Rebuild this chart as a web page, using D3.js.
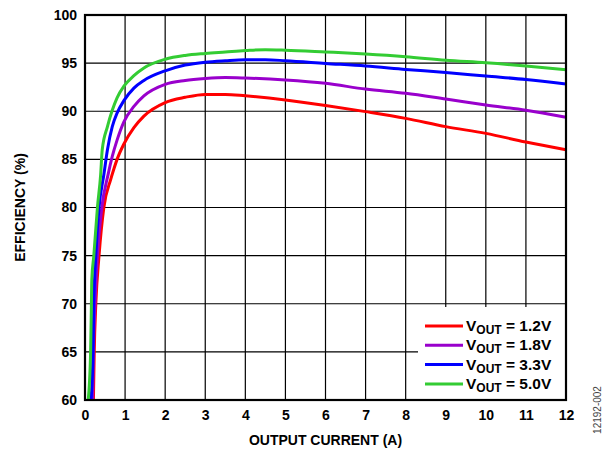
<!DOCTYPE html>
<html>
<head>
<meta charset="utf-8">
<script src="https://cdn.jsdelivr.net/npm/d3@7"></script>
<style>
  html, body { margin: 0; padding: 0; background: #fff; }
  svg { display: block; font-family: "Liberation Sans", Arial, sans-serif; }
</style>
</head>
<body>
<svg id="chart" width="606" height="449"></svg>
<script>
// Efficiency vs. output current for four output voltages
const xTicks = [0, 1, 2, 3, 4, 5, 6, 7, 8, 9, 10, 11, 12];
const yTicks = [60, 65, 70, 75, 80, 85, 90, 95, 100];

const seriesNames = ["1.2V", "1.8V", "3.3V", "5.0V"];
const seriesColors = ["#ff0000", "#9900cc", "#0000ff", "#33cc33"];

const current1v2 = [0.21, 0.23, 0.27, 0.35, 0.47, 0.64, 0.72, 0.80, 0.97, 1.22, 1.47, 2.0, 2.5, 3.0, 3.5, 4.0, 5, 6, 7, 8, 9, 10, 11, 12];
const eff1v2     = [60, 65, 70, 75, 80, 82.9, 84.0, 85.0, 86.6, 88.3, 89.5, 90.9, 91.45, 91.75, 91.75, 91.6, 91.17, 90.6, 89.96, 89.26, 88.4, 87.7, 86.8, 86.0];

const current1v8 = [0.19, 0.21, 0.25, 0.31, 0.42, 0.58, 0.68, 0.80, 0.97, 1.22, 1.47, 2.0, 2.5, 3.0, 3.5, 4.0, 5, 6, 7, 8, 9, 10, 11, 12];
const eff1v8     = [60, 65, 70, 75, 80, 83.5, 85.3, 87.0, 88.9, 90.5, 91.6, 92.8, 93.2, 93.4, 93.5, 93.45, 93.25, 92.9, 92.3, 91.87, 91.27, 90.65, 90.1, 89.37];

const current3v3 = [0.15, 0.20, 0.22, 0.27, 0.35, 0.47, 0.56, 0.68, 0.80, 0.97, 1.22, 1.47, 2.0, 2.5, 3.0, 3.5, 4.0, 4.5, 5, 6, 7, 8, 9, 10, 11, 12];
const eff3v3     = [60, 65, 70, 75, 80, 83.4, 86.0, 88.4, 89.8, 91.1, 92.4, 93.2, 94.2, 94.8, 95.1, 95.25, 95.35, 95.35, 95.25, 94.97, 94.7, 94.35, 94.03, 93.66, 93.3, 92.83];

const current5v0 = [0.08, 0.14, 0.16, 0.17, 0.22, 0.31, 0.39, 0.43, 0.56, 0.68, 0.80, 0.97, 1.22, 1.47, 2.0, 2.5, 3.0, 3.5, 4.0, 4.5, 5, 6, 7, 8, 9, 10, 11, 12];
const eff5v0     = [60, 65, 70, 72.5, 75, 80, 83.4, 86.0, 88.4, 90.1, 91.4, 92.6, 93.7, 94.5, 95.4, 95.8, 96.0, 96.15, 96.3, 96.4, 96.35, 96.16, 95.95, 95.67, 95.3, 95.04, 94.7, 94.3];

const seriesCurrents = [current1v2, current1v8, current3v3, current5v0];
const seriesEffs = [eff1v2, eff1v8, eff3v3, eff5v0];

const svg = d3.select("#chart");
const plot = { left: 85, right: 566, top: 15, bottom: 400 };

const x = d3.scaleLinear().domain([0, 12]).range([plot.left, plot.right]);
const y = d3.scaleLinear().domain([60, 100]).range([plot.bottom, plot.top]);

// grid
const grid = svg.append("g");
grid.selectAll("line.v").data(xTicks.slice(1, -1)).join("line")
  .attr("x1", d => x(d)).attr("x2", d => x(d))
  .attr("y1", plot.top).attr("y2", plot.bottom)
  .attr("stroke", "#000").attr("stroke-width", 1.2);
grid.selectAll("line.h").data(yTicks.slice(1, -1)).join("line")
  .attr("y1", d => y(d)).attr("y2", d => y(d))
  .attr("x1", plot.left).attr("x2", plot.right)
  .attr("stroke", "#000").attr("stroke-width", 1.2);

// curves
const line = d3.line()
  .x(d => x(d[0])).y(d => y(d[1]))
  .curve(d3.curveMonotoneX);

seriesNames.forEach((name, i) => {
  const pts = seriesCurrents[i].map((c, k) => [c, seriesEffs[i][k]]);
  svg.append("path")
    .datum(pts)
    .attr("d", line)
    .attr("fill", "none")
    .attr("stroke", seriesColors[i])
    .attr("stroke-width", 3)
    .attr("stroke-linejoin", "round");
});

// legend
const lg = svg.append("g");
lg.append("rect")
  .attr("x", 418).attr("y", 307).attr("width", plot.right - 418).attr("height", plot.bottom - 307)
  .attr("fill", "#fff");
seriesNames.forEach((name, i) => {
  const ly = 326 + i * 19.3;
  lg.append("line")
    .attr("x1", 425).attr("x2", 463).attr("y1", ly).attr("y2", ly)
    .attr("stroke", seriesColors[i]).attr("stroke-width", 3);
  const t = lg.append("text")
    .attr("x", 466).attr("y", ly + 5)
    .attr("font-size", 15.5).attr("font-weight", "bold").attr("fill", "#000");
  t.append("tspan").text("V");
  t.append("tspan").attr("font-size", 12).attr("dy", 3).text("OUT");
  t.append("tspan").attr("dy", -3).text(" = " + name);
});

// frame
svg.append("rect")
  .attr("x", plot.left).attr("y", plot.top)
  .attr("width", plot.right - plot.left).attr("height", plot.bottom - plot.top)
  .attr("fill", "none").attr("stroke", "#000").attr("stroke-width", 2.2);

// axes
const xAxis = d3.axisBottom(x).tickValues(xTicks).tickSize(0).tickPadding(10).tickFormat(d3.format("d"));
const gx = svg.append("g").attr("transform", `translate(0,${plot.bottom})`).call(xAxis);
gx.select(".domain").remove();
gx.selectAll("text").attr("font-size", 14).attr("font-weight", "bold").attr("fill", "#000")
  .attr("font-family", "Liberation Sans, Arial, sans-serif");

const yAxis = d3.axisLeft(y).tickValues(yTicks).tickSize(0).tickPadding(8).tickFormat(d3.format("d"));
const gy = svg.append("g").attr("transform", `translate(${plot.left},0)`).call(yAxis);
gy.select(".domain").remove();
gy.selectAll("text").attr("font-size", 14).attr("font-weight", "bold").attr("fill", "#000")
  .attr("font-family", "Liberation Sans, Arial, sans-serif");

// axis titles
svg.append("text")
  .attr("x", (plot.left + plot.right) / 2).attr("y", 445)
  .attr("text-anchor", "middle").attr("font-size", 14).attr("font-weight", "bold")
  .text("OUTPUT CURRENT (A)");

svg.append("text")
  .attr("transform", `translate(25,${(plot.top + plot.bottom) / 2}) rotate(-90)`)
  .attr("text-anchor", "middle").attr("font-size", 14).attr("font-weight", "bold")
  .text("EFFICIENCY (%)");

// figure id
svg.append("text")
  .attr("transform", "translate(601,410) rotate(-90)")
  .attr("text-anchor", "middle").attr("font-size", 10).attr("fill", "#444")
  .text("12192-002");
</script>
</body>
</html>
